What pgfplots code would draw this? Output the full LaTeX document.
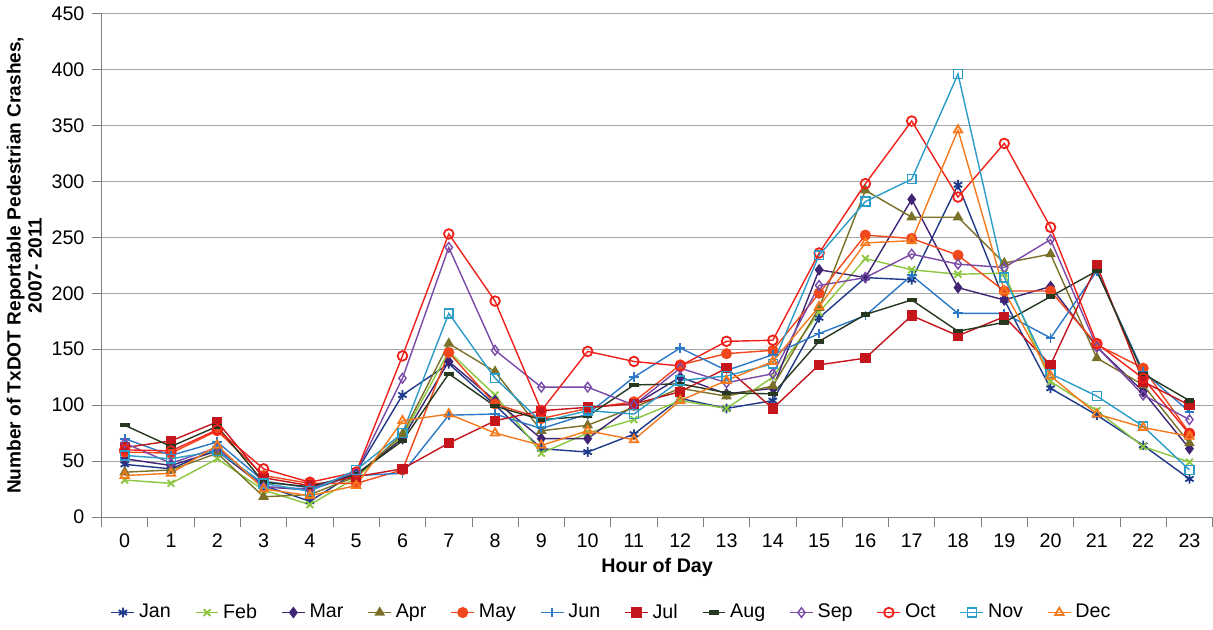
\documentclass[border=0pt]{standalone}
\usepackage{fontspec}
\setmainfont{Liberation Sans}
\usepackage{pgfplots}
\pgfplotsset{compat=1.18}
\usepackage{pgfplotstable}

\definecolor{cJan}{HTML}{1F3A8A}
\definecolor{cFeb}{HTML}{8CC63F}
\definecolor{cMar}{HTML}{3F2574}
\definecolor{cApr}{HTML}{7A7028}
\definecolor{cMay}{HTML}{F0471C}
\definecolor{cJun}{HTML}{2A78C6}
\definecolor{cJul}{HTML}{C4161C}
\definecolor{cAug}{HTML}{263820}
\definecolor{cSep}{HTML}{7A4AA8}
\definecolor{cOct}{HTML}{F0201A}
\definecolor{cNov}{HTML}{2C9CC8}
\definecolor{cDec}{HTML}{F57A1E}

% crashes per hour, one column per month
\pgfplotstableread{
h  Jan Feb Mar Apr May Jun Jul Aug Sep Oct Nov Dec
0  47  33  52  40  58  70  62  82  66  60  55  37
1  43  30  46  42  57  55  68  63  48  59  52  39
2  61  52  59  57  77  67  85  81  62  78  59  64
3  28  24  27  18  37  32  35  31  27  43  30  25
4  14  11  24  20  30  26  28  27  25  31  23  19
5  40  35  38  36  30  37  36  38  40  40  42  28
6  109 72  70  74  42  39  43  68  124 144 75  86
7  137 148 139 155 147 91  66  128 241 253 182 92
8  100 109 104 130 101 92  86  99  149 193 124 75
9  61  57  70  77  88  79  95  87  116 95  85  64
10 58  75  70  82  97  92  98  90  116 148 95  77
11 74  87  100 98  103 125 101 118 100 139 92  69
12 106 104 125 115 136 151 112 119 133 135 122 104
13 97  97  110 108 146 131 133 111 120 157 126 122
14 104 125 115 117 149 145 97  110 128 158 137 139
15 178 183 221 187 200 164 136 157 207 236 234 188
16 214 231 214 292 252 180 142 181 214 298 282 245
17 212 221 284 268 249 216 180 194 235 354 302 247
18 297 217 205 268 234 182 162 166 226 286 396 346
19 194 218 194 227 202 182 179 174 223 334 214 202
20 115 121 206 235 202 160 136 197 248 259 128 126
21 91  95  152 142 154 220 225 220 152 155 108 92
22 64  63  112 118 133 130 121 128 109 124 81  80
23 34  49  61  66  75  94  100 104 87  74  42  72
}\crashes

\begin{document}
\begin{tikzpicture}
\begin{axis}[
  scale only axis,
  width=553pt, height=250.5pt,
  xmin=-0.5, xmax=23.5,
  ymin=0, ymax=450,
  xtick={0,...,23},
  minor xtick={-0.5,0.5,...,23.5},
  ytick={0,50,...,450},
  major x tick style={draw=none},
  minor tick length=5pt,
  major tick length=5pt,
  tick align=outside,
  tick style={gray, thin},
  axis x line*=bottom,
  axis y line*=left,
  axis line style={gray, thin, -},
  ymajorgrids,
  grid style={gray!70, thin},
  font=\fontsize{9.8}{11}\selectfont,
  tick label style={font=\fontsize{9.8}{11}\selectfont},
  /pgf/number format/assume math mode=true,
  xlabel={\bfseries Hour of Day},
  ylabel={Number of TxDOT Reportable Pedestrian Crashes,\\2007- 2011},
  ylabel style={align=center, font=\fontsize{9.5}{10.5}\selectfont\bfseries, yshift=-2pt},
  xlabel style={yshift=2pt},
  every axis plot/.append style={line width=0.7pt, mark size=2.4pt},
  legend columns=12,
  legend image code/.code={%
    \draw[mark repeat=2, mark phase=2] plot coordinates {(0cm,0cm) (0.2cm,0cm) (0.4cm,0cm)};},
  legend style={draw=none, at={(0.46,-0.19)}, anchor=center,
    font=\fontsize{9.8}{11}\selectfont,
    /tikz/every even column/.append style={column sep=10pt}},
  legend cell align=left,
]
\addplot[cJan, mark=asterisk, mark options={line width=0.9pt}] table[x=h, y=Jan] {\crashes};
\addplot[cFeb, mark=x, mark options={line width=0.9pt}] table[x=h, y=Feb] {\crashes};
\addplot[cMar, mark=diamond*] table[x=h, y=Mar] {\crashes};
\addplot[cApr, mark=triangle*] table[x=h, y=Apr] {\crashes};
\addplot[cMay, mark=*] table[x=h, y=May] {\crashes};
\addplot[cJun, mark=+, mark options={line width=0.9pt}] table[x=h, y=Jun] {\crashes};
\addplot[cJul, mark=square*, mark size=2.2pt] table[x=h, y=Jul] {\crashes};
\addplot[cAug, mark=-, mark options={line width=2.2pt}] table[x=h, y=Aug] {\crashes};
\addplot[cSep, mark=diamond, mark options={fill=white}] table[x=h, y=Sep] {\crashes};
\addplot[cOct, mark=o, mark options={fill=white, line width=0.9pt}] table[x=h, y=Oct] {\crashes};
\addplot[cNov, mark=square, mark size=2.2pt, mark options={fill=white}] table[x=h, y=Nov] {\crashes};
\addplot[cDec, mark=triangle, mark options={fill=white, line width=0.9pt}] table[x=h, y=Dec] {\crashes};
\legend{Jan, Feb, Mar, Apr, May, Jun, Jul, Aug, Sep, Oct, Nov, Dec}
\end{axis}
\end{tikzpicture}
\end{document}
